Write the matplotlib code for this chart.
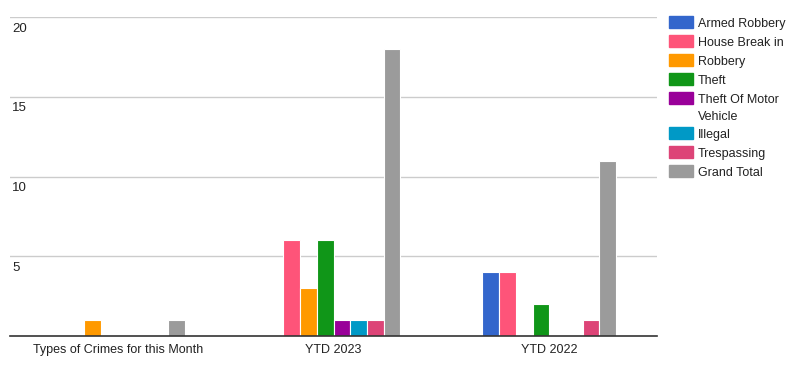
import numpy as np
import matplotlib.pyplot as plt
from matplotlib.patches import Rectangle

groups = ['Types of Crimes for this Month', 'YTD 2023', 'YTD 2022']
series = ['Armed Robbery', 'House Break in', 'Robbery', 'Theft',
          'Theft Of Motor\nVehicle', 'Illegal', 'Trespassing', 'Grand Total']
values = [
    [0, 0, 4],    # Armed Robbery
    [0, 6, 4],    # House Break in
    [1, 3, 0],    # Robbery
    [0, 6, 2],    # Theft
    [0, 1, 0],    # Theft Of Motor Vehicle
    [0, 1, 0],    # Illegal
    [0, 1, 1],    # Trespassing
    [1, 18, 11],  # Grand Total
]
colors = ['#3366cc', '#fe5479', '#ff9900', '#109618',
          '#990099', '#0099c6', '#dd4477', '#9b9b9b']

plt.rcParams['font.family'] = ['Liberation Sans', 'DejaVu Sans']

W, H = 800, 381
fig = plt.figure(figsize=(W / 100, H / 100), dpi=100)
ax = fig.add_axes([0.0125, 0.118, 0.809, 0.837])

x = np.arange(len(groups))
width = 0.62 / len(series)
for i, (name, vals) in enumerate(zip(series, values)):
    offs = (i - (len(series) - 1) / 2) * width
    ax.bar(x + offs, vals, width, color=colors[i], edgecolor='white',
           linewidth=0.8, label=name, zorder=2)

ax.set_xlim(-0.5, 2.5)
ax.set_ylim(0, 20)
ax.set_xticks(x)
ax.set_xticklabels(groups, fontsize=9, color='#222222')
ax.tick_params(axis='x', length=0, pad=6)
ax.set_yticks([])
for v in [5, 10, 15, 20]:
    ax.axhline(v, color='#cccccc', linewidth=1, zorder=1)
    ax.text(0.003, v - 0.35, str(v), transform=ax.get_yaxis_transform(),
            ha='left', va='top', fontsize=9.5, color='#222222')
for s in ['top', 'right', 'left']:
    ax.spines[s].set_visible(False)
ax.spines['bottom'].set_color('#333333')
ax.spines['bottom'].set_linewidth(1.2)
ax.spines['bottom'].set_zorder(3)

# legend drawn by hand (pixel layout, top-down)
y = 22
for name, c in zip(series, colors):
    fig.add_artist(Rectangle((669 / W, 1 - (y + 6) / H), 24 / W, 12 / H,
                             transform=fig.transFigure, color=c))
    fig.text(698 / W, 1 - (y - 4) / H, name, ha='left', va='top',
             fontsize=9, color='#222222', linespacing=1.55)
    y += 19 + 16 * name.count('\n')

fig.savefig('out.png', dpi=100)
